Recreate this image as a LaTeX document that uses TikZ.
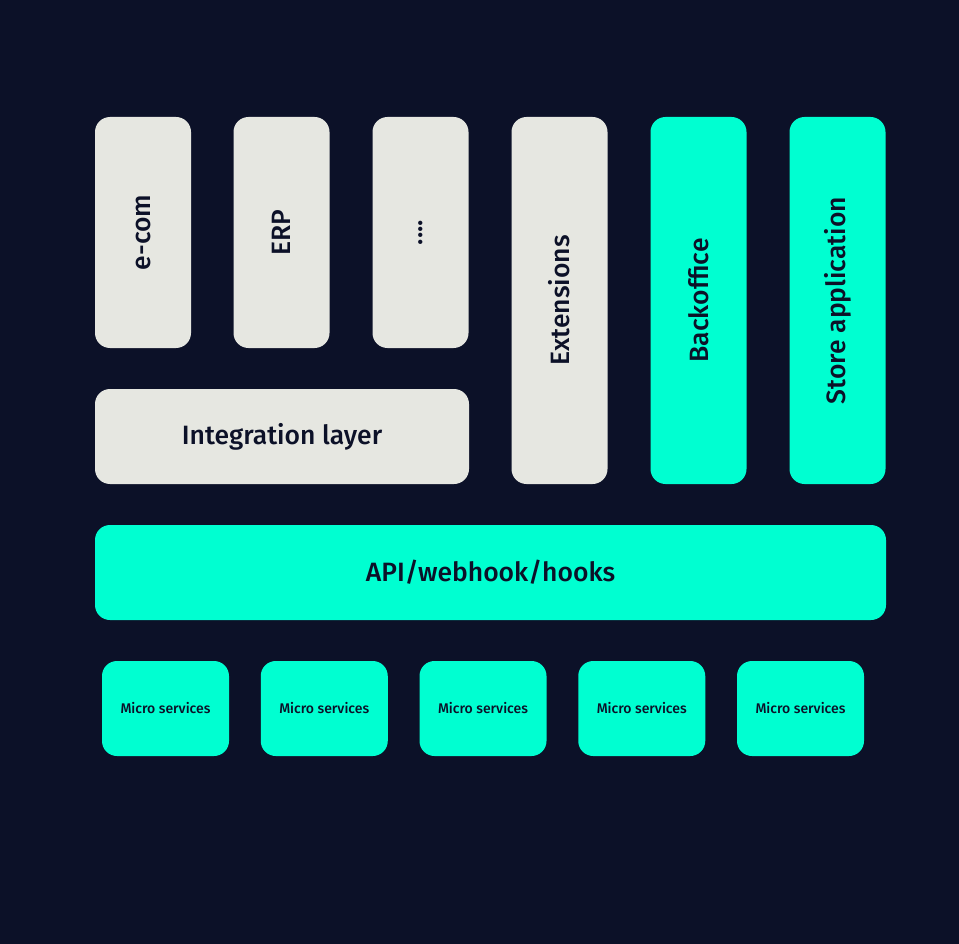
\documentclass[tikz,border=0pt]{standalone}
\usepackage{fontspec}
\setmainfont{Fira Sans}[UprightFont={* Medium}]
\definecolor{night}{HTML}{0C1128}
\definecolor{chalk}{HTML}{E6E7E1}
\definecolor{mint}{HTML}{00FFD1}
\tikzset{
    block/.style={rounded corners=15pt, inner sep=0pt, text=night, font=\fontsize{26.5}{30}\selectfont},
    greyblock/.style={block, fill=chalk},
    mintblock/.style={block, fill=mint},
    upright/.style={rotate=90, minimum width=#1, minimum height=96pt},
    microbox/.style={mintblock, minimum width=127pt, minimum height=95pt, font=\fontsize{14}{16}\selectfont}
}
\begin{document}
\begin{tikzpicture}[x=1pt, y=-1pt]
    \fill[night] (0,0) rectangle (959,944);
    \useasboundingbox (0,0) rectangle (959,944);
    % top row
    \node[greyblock, upright=231pt] (ecom) at (143,232.5) {e-com};
    \node[greyblock, upright=231pt] (erp) at (281.5,232.5) {ERP};
    \node[greyblock, upright=231pt] (more) at (420.5,232.5) {....};
    \node[greyblock, upright=367pt] (ext) at (559.5,300.5) {Extensions};
    \node[mintblock, upright=367pt] (back) at (698.5,300.5) {Backoffice};
    \node[mintblock, upright=367pt] (store) at (837.5,300.5) {Store application};
    % layers
    \node[greyblock, minimum width=374pt, minimum height=95pt] (integ) at (282,436.5) {Integration layer};
    \node[mintblock, minimum width=791pt, minimum height=95pt] (api) at (490.5,572.5) {API/webhook/hooks};
    % services
    \foreach \i in {0,...,4}
        \node[microbox] (micro\i) at (165.5+158.75*\i,708.5) {Micro services};
\end{tikzpicture}
\end{document}
